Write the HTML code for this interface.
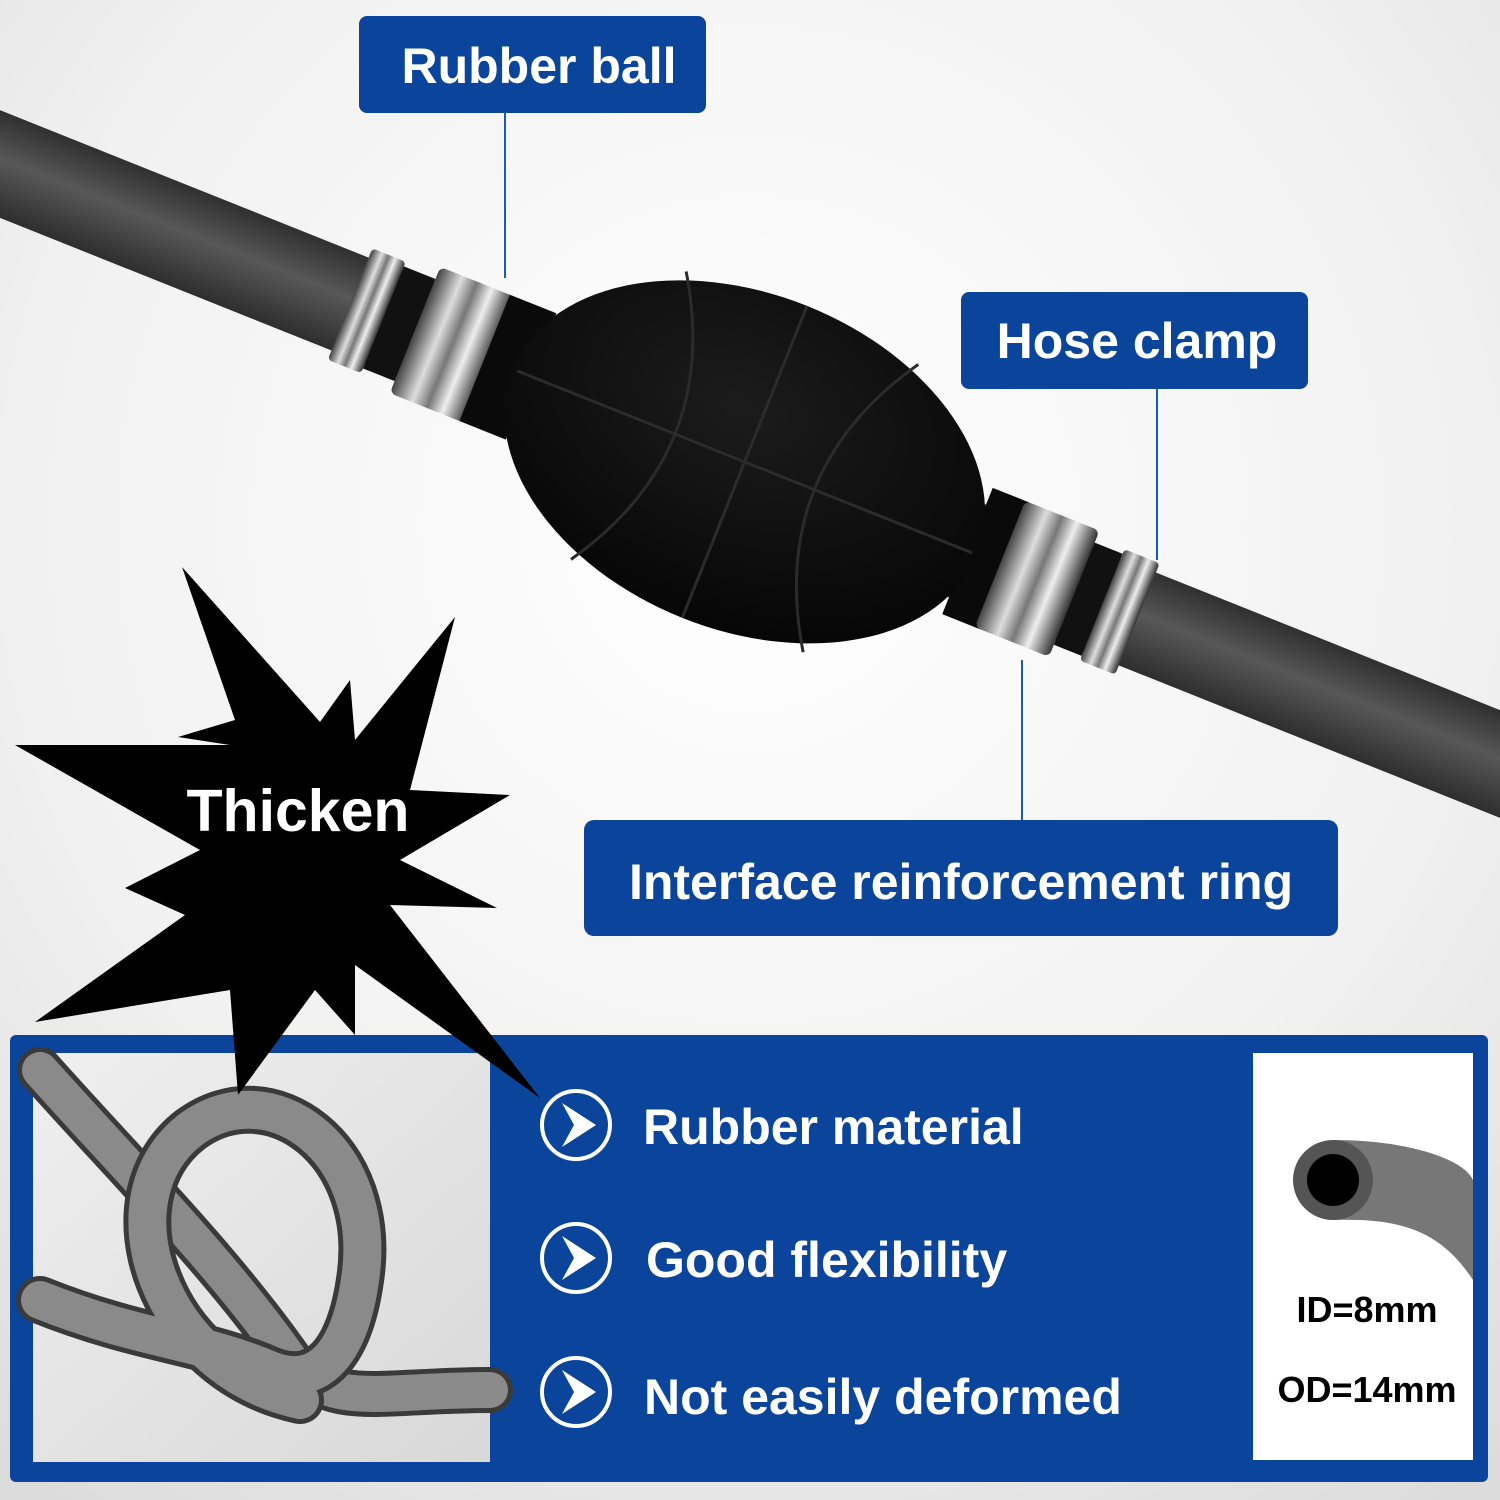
<!DOCTYPE html>
<html><head><meta charset="utf-8"><style>
html,body{margin:0;padding:0;width:1500px;height:1500px;overflow:hidden;background:#fff;}
svg{display:block}
text{font-family:"Liberation Sans",Arial,sans-serif;font-weight:bold}
</style></head><body>
<svg width="1500" height="1500" viewBox="0 0 1500 1500" xmlns="http://www.w3.org/2000/svg">
<defs>
<radialGradient id="bg" cx="0.5" cy="0.35" r="0.8">
<stop offset="0" stop-color="#ffffff"/><stop offset="0.6" stop-color="#f1f1f1"/><stop offset="1" stop-color="#dcdcdc"/>
</radialGradient>
<linearGradient id="hose" x1="0" y1="0" x2="0" y2="1">
<stop offset="0" stop-color="#303030"/><stop offset="0.45" stop-color="#585858"/><stop offset="1" stop-color="#2e2e2e"/>
</linearGradient>
<linearGradient id="metal" x1="0" y1="0" x2="1" y2="0">
<stop offset="0" stop-color="#444"/><stop offset="0.3" stop-color="#ddd"/><stop offset="0.5" stop-color="#777"/><stop offset="0.7" stop-color="#eee"/><stop offset="1" stop-color="#333"/>
</linearGradient>
<radialGradient id="bulb" cx="0.45" cy="0.35" r="0.7">
<stop offset="0" stop-color="#1c1c1c"/><stop offset="1" stop-color="#050505"/>
</radialGradient>
<linearGradient id="knotbg" x1="0" y1="0" x2="1" y2="1">
<stop offset="0" stop-color="#efefef"/><stop offset="1" stop-color="#d8d8d8"/>
</linearGradient>
</defs>
<rect width="1500" height="1500" fill="url(#bg)"/>

<g transform="rotate(21.8 740 460)">
<rect x="-300" y="410" width="820" height="100" fill="url(#hose)"/>
<rect x="980" y="410" width="1000" height="100" fill="url(#hose)"/>
<rect x="320" y="400" width="36" height="120" fill="url(#metal)" rx="4"/>
<rect x="356" y="405" width="34" height="110" fill="#111"/>
<rect x="390" y="392" width="80" height="136" fill="url(#metal)" rx="6"/>
<rect x="465" y="392" width="50" height="136" fill="#0a0a0a"/>
<rect x="985" y="392" width="40" height="136" fill="#0a0a0a"/>
<rect x="1020" y="392" width="80" height="136" fill="url(#metal)" rx="6"/>
<rect x="1100" y="405" width="30" height="110" fill="#111"/>
<rect x="1130" y="400" width="38" height="120" fill="url(#metal)" rx="4"/>
<ellipse cx="745" cy="460" rx="250" ry="168" fill="url(#bulb)"/>
<g stroke="#2b2b2b" stroke-width="3" fill="none">
<path d="M620 305 Q720 460 620 615"/>
<path d="M870 305 Q770 460 870 615"/>
<path d="M500 460 L990 460"/>
<path d="M745 292 L745 628"/>
</g>
</g>

<g stroke="#1a5cb0" stroke-width="2">
<line x1="505" y1="113" x2="505" y2="278"/>
<line x1="1157" y1="389" x2="1157" y2="560"/>
<line x1="1022" y1="660" x2="1022" y2="820"/>
</g>

<rect x="359" y="16" width="347" height="97" rx="8" fill="#0b459b"/>
<text x="539" y="83" fill="#fff" font-size="50" text-anchor="middle">Rubber ball</text>
<rect x="961" y="292" width="347" height="97" rx="8" fill="#0b459b"/>
<text x="1137" y="358" fill="#fff" font-size="50" text-anchor="middle">Hose clamp</text>
<rect x="584" y="820" width="754" height="116" rx="10" fill="#0b459b"/>
<text x="961" y="899" fill="#fff" font-size="50" text-anchor="middle">Interface reinforcement ring</text>

<rect x="10" y="1035" width="1478" height="447" rx="6" fill="#0b459b"/>
<rect x="33" y="1053" width="457" height="409" fill="url(#knotbg)"/>
<g fill="none" stroke-linecap="round">
<path d="M40 1070 C120 1160 220 1260 290 1360 C330 1410 380 1390 490 1390" stroke="#3a3a3a" stroke-width="46"/>
<path d="M40 1070 C120 1160 220 1260 290 1360 C330 1410 380 1390 490 1390" stroke="#8a8a8a" stroke-width="36"/>
<path d="M300 1400 C160 1370 100 1200 190 1130 C270 1070 380 1150 360 1280 C350 1350 320 1390 270 1370 C200 1340 140 1340 40 1300" stroke="#3a3a3a" stroke-width="48"/>
<path d="M300 1400 C160 1370 100 1200 190 1130 C270 1070 380 1150 360 1280 C350 1350 320 1390 270 1370 C200 1340 140 1340 40 1300" stroke="#8a8a8a" stroke-width="38"/>
</g>
<rect x="1253" y="1053" width="220" height="407" fill="#fff"/>
<path d="M1333 1140 C1410 1140 1465 1160 1473 1180 L1473 1280 C1440 1230 1400 1218 1333 1220 Z" fill="#777"/>
<ellipse cx="1333" cy="1180" rx="40" ry="40" fill="#555"/>
<ellipse cx="1333" cy="1180" rx="26" ry="26" fill="#000"/>
<text x="1367" y="1322" font-size="36" fill="#000" text-anchor="middle">ID=8mm</text>
<text x="1367" y="1402" font-size="36" fill="#000" text-anchor="middle">OD=14mm</text>

<g fill="none" stroke="#fff" stroke-width="4">
<circle cx="576" cy="1125" r="34"/><circle cx="576" cy="1258" r="34"/><circle cx="576" cy="1392" r="34"/>
</g>
<g fill="#fff">
<path d="M562 1103 L596 1125 L562 1147 L574 1125 Z"/>
<path d="M562 1236 L596 1258 L562 1280 L574 1258 Z"/>
<path d="M562 1370 L596 1392 L562 1414 L574 1392 Z"/>
</g>
<text x="643" y="1144" fill="#fff" font-size="50">Rubber material</text>
<text x="646" y="1277" fill="#fff" font-size="50">Good flexibility</text>
<text x="644" y="1414" fill="#fff" font-size="50">Not easily deformed</text>

<polygon fill="#000" points="182,567 320,722 350,680 355,740 455,617 410,790 510,795 400,860 497,908 390,905 540,1098 355,965 355,1035 315,990 238,1095 230,990 35,1022 185,915 125,888 200,850 15,745 230,745 178,737 235,720"/>
<text x="298" y="831" fill="#fff" font-size="59" text-anchor="middle">Thicken</text>
</svg>
</body></html>
